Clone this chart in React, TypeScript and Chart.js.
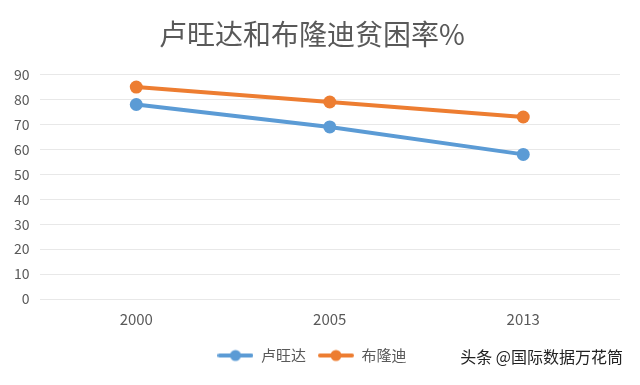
import React, { useEffect, useRef } from "react";
import { Chart, registerables } from "chart.js";

Chart.register(...registerables);

const categories = ["2000", "2005", "2013"];
const rwanda = [78, 69, 58];
const burundi = [85, 79, 73];
const seriesNames = ["卢旺达", "布隆迪"];
const yTicks = { min: 0, max: 90, step: 10 };
const titleText = "卢旺达和布隆迪贫困率%";
const watermark = "头条 @国际数据万花筒";

const BLUE = "#5B9BD5";
const ORANGE = "#ED7D31";
const FONT = "'Noto Sans CJK SC', 'Noto Sans', sans-serif";

function legendIcon(color: string): HTMLCanvasElement {
  const c = document.createElement("canvas");
  c.width = 36;
  c.height = 14;
  const ctx = c.getContext("2d")!;
  ctx.strokeStyle = color;
  ctx.lineWidth = 4;
  ctx.lineCap = "round";
  ctx.beginPath();
  ctx.moveTo(2, 7);
  ctx.lineTo(34, 7);
  ctx.stroke();
  ctx.fillStyle = color;
  ctx.beginPath();
  ctx.arc(18, 7, 5.5, 0, Math.PI * 2);
  ctx.fill();
  return c;
}

export default function App() {
  const ref = useRef<HTMLCanvasElement | null>(null);

  useEffect(() => {
    document.body.style.margin = "0";
    const icons = [legendIcon(BLUE), legendIcon(ORANGE)];
    const chart = new Chart(ref.current!, {
      type: "line",
      data: {
        labels: categories,
        datasets: [
          {
            label: seriesNames[0],
            data: rwanda,
            borderColor: BLUE,
            backgroundColor: BLUE,
            borderWidth: 4,
            pointRadius: 6.5,
            pointBackgroundColor: BLUE,
            pointBorderWidth: 0,
          },
          {
            label: seriesNames[1],
            data: burundi,
            borderColor: ORANGE,
            backgroundColor: ORANGE,
            borderWidth: 4,
            pointRadius: 6.5,
            pointBackgroundColor: ORANGE,
            pointBorderWidth: 0,
          },
        ],
      },
      options: {
        animation: false,
        responsive: false,
        layout: { padding: { left: 4, right: 20, top: 4, bottom: 12 } },
        plugins: {
          title: {
            display: true,
            text: titleText,
            color: "#595959",
            font: { family: FONT, size: 28, weight: "normal" },
            padding: { top: 14, bottom: 23 },
          },
          legend: {
            position: "bottom",
            labels: {
              color: "#595959",
              font: { family: FONT, size: 15 },
              usePointStyle: true,
              pointStyleWidth: 36,
              boxWidth: 36,
              boxHeight: 14,
              padding: 12,
              generateLabels: (ch: any) =>
                ch.data.datasets.map((ds: any, i: number) => ({
                  text: ds.label,
                  fillStyle: ds.borderColor,
                  strokeStyle: ds.borderColor,
                  lineWidth: 0,
                  pointStyle: icons[i],
                  hidden: false,
                  datasetIndex: i,
                  fontColor: "#595959",
                })),
            },
          },
          tooltip: { enabled: false },
        },
        scales: {
          x: {
            offset: true,
            grid: { display: false },
            border: { display: false },
            ticks: { color: "#595959", font: { family: FONT, size: 15 }, padding: 3 },
            afterFit: (axis: any) => {
              axis.height += 5;
            },
          },
          y: {
            min: yTicks.min,
            max: yTicks.max,
            grid: { color: "#E8E8E8", lineWidth: 1, drawTicks: false },
            border: { display: false },
            ticks: {
              stepSize: yTicks.step,
              color: "#595959",
              font: { family: FONT, size: 14 },
              padding: 10,
            },
          },
        },
      },
    });
    return () => chart.destroy();
  }, []);

  return (
    <div style={{ position: "relative", width: 640, height: 385, background: "#fff" }}>
      <canvas ref={ref} width={640} height={385} />
      <div
        style={{
          position: "absolute",
          right: 17,
          bottom: 17,
          fontFamily: FONT,
          fontSize: 16,
          color: "#222",
          whiteSpace: "nowrap",
        }}
      >
        {watermark}
      </div>
    </div>
  );
}
